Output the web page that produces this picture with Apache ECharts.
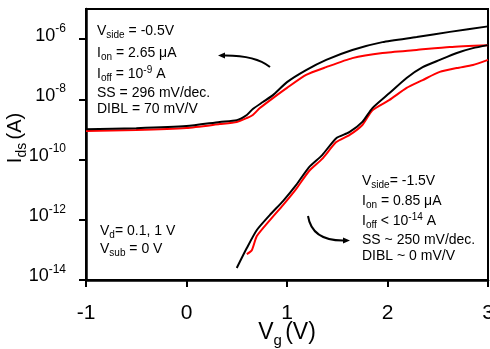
<!DOCTYPE html>
<html>
<head>
<meta charset="utf-8">
<script src="https://cdn.jsdelivr.net/npm/echarts@6/dist/echarts.min.js"></script>
<style>
  html, body { margin: 0; padding: 0; background: #fff; }
  #chart { width: 490px; height: 349px; }
</style>
</head>
<body>
<div id="chart"></div>
<script>
// Transfer curves Ids(Vg): two side-gate biases, each at Vd = 1 V (black) and 0.1 V (red)
const vgSideA = [-1.0, -0.5, 0, 0.33, 0.5, 0.6, 0.66, 0.76, 0.86, 1.0, 1.19, 1.39, 1.65, 1.95, 2.29, 2.62, 3.0];
const idSideAHigh = [1.02e-9, 1.10e-9, 1.29e-9, 1.78e-9, 2.04e-9, 3.02e-9, 4.79e-9, 8.13e-9, 1.38e-8, 3.72e-8, 9.33e-8, 2.04e-7, 4.37e-7, 7.94e-7, 1.17e-6, 1.74e-6, 2.65e-6];
const vgSideALow = [-1.0, -0.5, 0, 0.33, 0.5, 0.6, 0.66, 0.73, 0.86, 1.0, 1.19, 1.39, 1.65, 1.95, 2.29, 2.62, 3.0];
const idSideALow = [8.91e-10, 9.55e-10, 1.12e-9, 1.51e-9, 1.78e-9, 2.40e-9, 3.02e-9, 5.13e-9, 1.10e-8, 2.40e-8, 6.46e-8, 1.17e-7, 2.34e-7, 3.47e-7, 4.37e-7, 5.50e-7, 6.31e-7];

const vgSideBHigh = [0.50, 0.60, 0.70, 0.83, 0.96, 1.09, 1.22, 1.35, 1.49, 1.62, 1.75, 1.85, 2.02, 2.19, 2.35, 2.52, 2.69, 2.85, 3.0];
const idSideBHigh = [2.51e-14, 1.15e-13, 4.57e-13, 1.45e-12, 4.17e-12, 1.41e-11, 5.62e-11, 1.41e-10, 5.13e-10, 8.13e-10, 1.78e-9, 5.13e-9, 1.62e-8, 5.13e-8, 1.17e-7, 2.04e-7, 3.47e-7, 5.01e-7, 6.31e-7];
const vgSideBLow = [0.60, 0.65, 0.70, 0.83, 0.96, 1.09, 1.22, 1.35, 1.49, 1.62, 1.75, 1.85, 2.02, 2.19, 2.35, 2.52, 2.69, 2.85, 3.0];
const idSideBLow = [7.24e-14, 9.77e-14, 2.88e-13, 9.77e-13, 3.09e-12, 1.05e-11, 4.17e-11, 1.05e-10, 3.80e-10, 6.46e-10, 1.41e-9, 4.37e-9, 9.55e-9, 2.40e-8, 4.37e-8, 8.13e-8, 1.10e-7, 1.38e-7, 2.04e-7];

const xTicks = [-1, 0, 1, 2, 3];
const yTicks = [1e-14, 1e-12, 1e-10, 1e-8, 1e-6];

const FONT = 'Liberation Sans, Arial, sans-serif';

function pairs(xs, ys) { return xs.map((x, i) => [x, ys[i]]); }

function curve(name, xs, ys, color, z) {
  return {
    name, type: 'line', data: pairs(xs, ys), showSymbol: false, smooth: 0.2,
    lineStyle: { color, width: 2 }, z
  };
}

// annotation tokens: n = normal, b = subscript, p = superscript (all bottom-aligned; padding lifts)
const annRich = {
  n: { fontSize: 14, verticalAlign: 'bottom', padding: [0, 0, 3, 0], fontFamily: FONT, fill: '#000', color: '#000' },
  b: { fontSize: 10, verticalAlign: 'bottom', fontFamily: FONT, fill: '#000', color: '#000' },
  p: { fontSize: 10, verticalAlign: 'bottom', padding: [0, 0, 8, 0], fontFamily: FONT, fill: '#000', color: '#000' }
};
function ann(x, baseline, text) {
  return {
    type: 'text', x, y: baseline + 5.7, z: 50,
    style: { text, fontFamily: FONT, fontSize: 14, fill: '#000', verticalAlign: 'bottom', align: 'left', rich: annRich }
  };
}

const chart = echarts.init(document.getElementById('chart'), null, { renderer: 'canvas' });

chart.setOption({
  animation: false,
  backgroundColor: '#fff',
  grid: {
    left: 86, right: 2, top: 9, bottom: 69, show: true, borderColor: '#000', borderWidth: 2,
    containLabel: false, outerBoundsMode: 'none'
  },
  xAxis: {
    type: 'value', min: -1, max: 3, interval: 1,
    axisLine: { onZero: false, lineStyle: { color: '#000', width: 2.5 } },
    axisTick: { show: true, inside: false, length: 7, lineStyle: { color: '#000', width: 2 }, customValues: xTicks },
    splitLine: { show: false },
    axisLabel: { color: '#000', fontSize: 21, fontFamily: FONT, margin: 23, customValues: xTicks },
    name: '{n|V}{s|g} {n|(V)}', nameLocation: 'middle', nameGap: 41, nameMoveOverlap: false,
    nameTextStyle: {
      fontFamily: FONT, color: '#000',
      rich: {
        n: { fontSize: 23, fontFamily: FONT, color: '#000', verticalAlign: 'bottom', padding: [0, 0, 4, 0] },
        s: { fontSize: 15, fontFamily: FONT, color: '#000', verticalAlign: 'bottom' }
      }
    }
  },
  yAxis: {
    type: 'log', logBase: 10, min: 1e-14, max: 1e-5,
    axisLine: { onZero: false, lineStyle: { color: '#000', width: 2.5 } },
    axisTick: { show: true, inside: false, length: 7, lineStyle: { color: '#000', width: 2 }, customValues: yTicks },
    splitLine: { show: false },
    minorTick: { show: false },
    axisLabel: {
      margin: 20, verticalAlign: 'middle', customValues: yTicks,
      formatter: v => '{b|10}{s|' + Math.round(Math.log10(v)) + '}',
      rich: {
        b: { fontSize: 18, verticalAlign: 'bottom', padding: [0, 0, 11, 0], fontFamily: FONT, color: '#000' },
        s: { fontSize: 12, verticalAlign: 'bottom', padding: [0, 0, 21, 0], fontFamily: FONT, color: '#000' }
      }
    },
    name: '{n|I}{s|ds} {n|(A)}', nameLocation: 'middle', nameGap: 57, nameRotate: 90, nameMoveOverlap: false,
    nameTextStyle: {
      fontFamily: FONT, color: '#000', padding: [0, 0, 0, 13],
      rich: {
        n: { fontSize: 20, fontFamily: FONT, color: '#000', verticalAlign: 'bottom', padding: [0, 0, 4, 0] },
        s: { fontSize: 14, fontFamily: FONT, color: '#000', verticalAlign: 'bottom' }
      }
    }
  },
  series: [
    curve('Vside -0.5 V, Vd 1 V', vgSideA, idSideAHigh, '#000', 3),
    curve('Vside -0.5 V, Vd 0.1 V', vgSideALow, idSideALow, '#ff0000', 2),
    curve('Vside -1.5 V, Vd 1 V', vgSideBHigh, idSideBHigh, '#000', 3),
    curve('Vside -1.5 V, Vd 0.1 V', vgSideBLow, idSideBLow, '#ff0000', 2)
  ],
  graphic: [
    ann(97, 35, '{n|V}{b|side}{n| = -0.5V}'),
    ann(97, 57, '{n|I}{b|on}{n| = 2.65 μA}'),
    ann(97, 78, '{n|I}{b|off}{n| = 10}{p|-9}{n| A}'),
    ann(97, 97.5, '{n|SS = 296 mV/dec.}'),
    ann(97, 113, '{n|DIBL = 70 mV/V}'),

    ann(100, 235, '{n|V}{b|d}{n|= 0.1, 1 V}'),
    ann(100, 253, '{n|V}{b|sub}{n| = 0 V}'),

    ann(362, 185, '{n|V}{b|side}{n|= -1.5V}'),
    ann(362, 205, '{n|I}{b|on}{n| = 0.85 μA}'),
    ann(362, 225, '{n|I}{b|off}{n| < 10}{p|-14}{n| A}'),
    ann(362, 244, '{n|SS ~ 250 mV/dec.}'),
    ann(362, 260, '{n|DIBL ~ 0 mV/V}'),

    // pointer to the upper pair of curves
    { type: 'bezierCurve', z: 50, shape: { x1: 270, y1: 67, cpx1: 255, cpy1: 55, x2: 223, y2: 55.5 },
      style: { stroke: '#000', lineWidth: 2, fill: null } },
    { type: 'polygon', z: 50, shape: { points: [[218, 55.5], [225, 52.5], [225, 58.5]] }, style: { fill: '#000' } },
    // pointer to the lower pair of curves
    { type: 'bezierCurve', z: 50, shape: { x1: 308, y1: 216, cpx1: 312, cpy1: 241, x2: 344, y2: 240.5 },
      style: { stroke: '#000', lineWidth: 2, fill: null } },
    { type: 'polygon', z: 50, shape: { points: [[350, 240.5], [343, 237.5], [343, 243.5]] }, style: { fill: '#000' } }
  ]
});
</script>
</body>
</html>
